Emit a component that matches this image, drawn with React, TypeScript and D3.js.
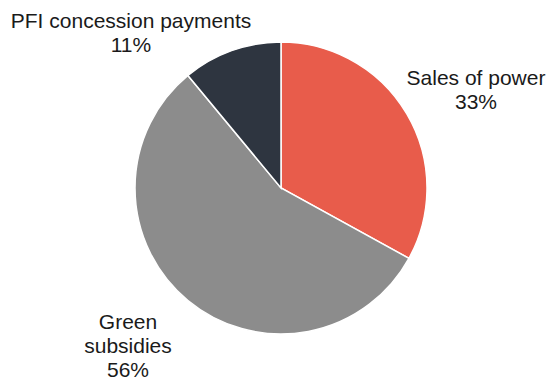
import React from "react";
import * as d3 from "d3";

const categories = ["Sales of power", "Green subsidies", "PFI concession payments"];
const values = [33, 56, 11];
const colors = ["#E85C4B", "#8C8C8C", "#2E3540"];
const labelLines = [["Sales of power", "33%"], ["Green", "subsidies", "56%"], ["PFI concession payments", "11%"]];
const labelPos = [[476, 85], [128, 329], [131, 28]];

export default function App() {
  const W = 547, H = 380;
  const cx = 281, cy = 188, r = 146;
  const pie = d3.pie<number>().sort(null).value((d) => d)(values);
  const arc = d3.arc<d3.PieArcDatum<number>>().innerRadius(0).outerRadius(r);
  return (
    <svg width={W} height={H} style={{ position: "absolute", left: 0, top: 0 }}>
      <rect width={W} height={H} fill="#fff" />
      <g transform={`translate(${cx},${cy})`}>
        {pie.map((p, i) => (
          <path key={categories[i]} d={arc(p) || ""} fill={colors[i]} stroke="#fff" strokeWidth={1.5} />
        ))}
      </g>
      {labelLines.map((lines, i) => (
        <text key={i} x={labelPos[i][0]} y={labelPos[i][1]} textAnchor="middle"
          fontFamily="Liberation Sans, Arial, sans-serif" fontSize={21} fill="#1a1a1a">
          {lines.map((l, j) => (
            <tspan key={j} x={labelPos[i][0]} dy={j === 0 ? 0 : 24}>{l}</tspan>
          ))}
        </text>
      ))}
    </svg>
  );
}
